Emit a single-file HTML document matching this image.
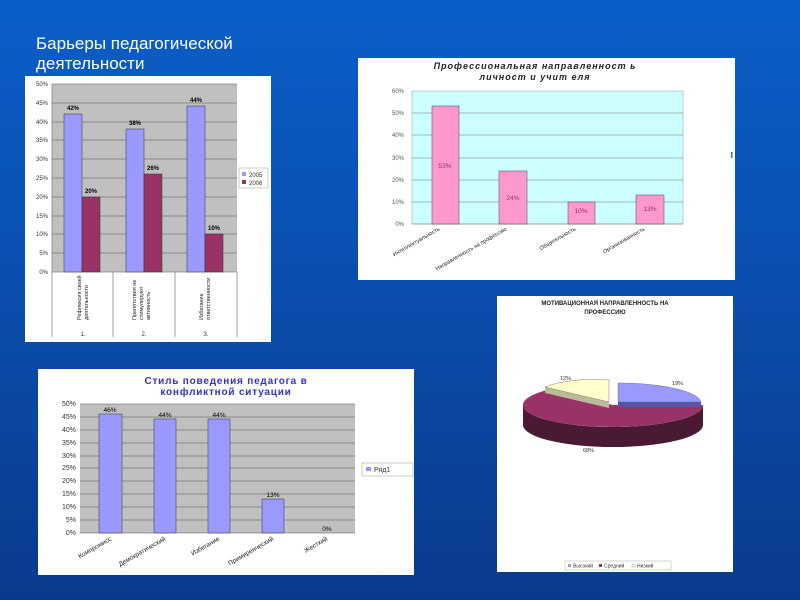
<!DOCTYPE html>
<html><head><meta charset="utf-8"><style>
html,body{margin:0;padding:0}
body{width:800px;height:600px;overflow:hidden;background:linear-gradient(180deg,#0b5ec8 0%,#0a4fb0 45%,#0a3a8c 100%);font-family:"Liberation Sans","DejaVu Sans",sans-serif;position:relative}
.t{position:absolute;left:36px;top:34px;color:#fff;font-size:17px;line-height:20px}
svg{position:absolute;left:0;top:0}
</style></head><body>
<div class="t">Барьеры педагогической<br>деятельности</div>
<svg width="800" height="600" font-family="Liberation Sans, DejaVu Sans, sans-serif">
<!-- Chart 1 -->
<rect x="25" y="76" width="246" height="266" fill="#fff"/>
<rect x="52" y="84" width="185" height="188" fill="#c0c0c0"/>
<g stroke="#555" stroke-width="0.6">
<line x1="52" y1="84" x2="237" y2="84"/><line x1="52" y1="103" x2="237" y2="103"/><line x1="52" y1="122" x2="237" y2="122"/><line x1="52" y1="140" x2="237" y2="140"/><line x1="52" y1="159" x2="237" y2="159"/><line x1="52" y1="178" x2="237" y2="178"/><line x1="52" y1="197" x2="237" y2="197"/><line x1="52" y1="216" x2="237" y2="216"/><line x1="52" y1="234" x2="237" y2="234"/><line x1="52" y1="253" x2="237" y2="253"/>
</g>
<g stroke="#888" stroke-width="0.8"><line x1="52" y1="272" x2="237" y2="272"/><line x1="52" y1="84" x2="52" y2="337"/><line x1="113" y1="272" x2="113" y2="337"/><line x1="175" y1="272" x2="175" y2="337"/><line x1="237" y1="272" x2="237" y2="337"/></g>
<g fill="#9999ff" stroke="#333" stroke-width="0.5"><rect x="64" y="114" width="18" height="158"/><rect x="126" y="129" width="18" height="143"/><rect x="187" y="106" width="18" height="166"/></g>
<g fill="#993366" stroke="#333" stroke-width="0.5"><rect x="82" y="197" width="18" height="75"/><rect x="144" y="174" width="18" height="98"/><rect x="205" y="234" width="18" height="38"/></g>
<g font-size="6" fill="#333" text-anchor="end"><text x="48" y="86">50%</text><text x="48" y="105">45%</text><text x="48" y="124">40%</text><text x="48" y="142">35%</text><text x="48" y="161">30%</text><text x="48" y="180">25%</text><text x="48" y="199">20%</text><text x="48" y="218">15%</text><text x="48" y="236">10%</text><text x="48" y="255">5%</text><text x="48" y="274">0%</text></g>
<g font-size="6" fill="#000" text-anchor="middle" font-weight="bold"><text x="73" y="110">42%</text><text x="91" y="193">20%</text><text x="135" y="125">38%</text><text x="153" y="170">26%</text><text x="196" y="102">44%</text><text x="214" y="230">10%</text></g>
<g font-size="5.5" fill="#222"><text transform="translate(81,320) rotate(-90)">Рефлексия своей</text><text transform="translate(88,320) rotate(-90)">деятельности</text>
<text transform="translate(136,320) rotate(-90)">Препятствия не</text><text transform="translate(143,320) rotate(-90)">стимулируют</text><text transform="translate(150,320) rotate(-90)">активность</text>
<text transform="translate(203,320) rotate(-90)">Избегание</text><text transform="translate(210,320) rotate(-90)">ответственности</text></g>
<g font-size="6" fill="#333" text-anchor="middle"><text x="83" y="336">1.</text><text x="144" y="336">2.</text><text x="206" y="336">3.</text></g>
<rect x="239" y="168" width="29" height="20" fill="#fff" stroke="#999" stroke-width="0.5"/>
<rect x="242" y="172" width="4" height="4" fill="#9999ff"/><rect x="242" y="180" width="4" height="4" fill="#993366"/>
<g font-size="6" fill="#333"><text x="249" y="177">2005</text><text x="249" y="185">2006</text></g>

<!-- Chart 2 -->
<rect x="358" y="58" width="377" height="222" fill="#fff"/>
<g font-size="9" font-weight="bold" font-style="italic" fill="#222" text-anchor="middle" letter-spacing="1"><text x="535" y="69">Профессиональная направленност ь</text><text x="535" y="80">личност и учит еля</text></g>
<rect x="412" y="91" width="271" height="133" fill="#ccffff" stroke="#999" stroke-width="0.5"/>
<g stroke="#777" stroke-width="0.6"><line x1="412" y1="113" x2="683" y2="113"/><line x1="412" y1="135" x2="683" y2="135"/><line x1="412" y1="158" x2="683" y2="158"/><line x1="412" y1="180" x2="683" y2="180"/><line x1="412" y1="202" x2="683" y2="202"/><line x1="412" y1="224" x2="683" y2="224"/></g>
<g fill="#ff99cc" stroke="#444" stroke-width="0.5"><rect x="432" y="106" width="27" height="118"/><rect x="499" y="171" width="28" height="53"/><rect x="568" y="202" width="27" height="22"/><rect x="636" y="195" width="28" height="29"/></g>
<g font-size="6" fill="#555" text-anchor="end"><text x="404" y="93">60%</text><text x="404" y="115">50%</text><text x="404" y="137">40%</text><text x="404" y="160">30%</text><text x="404" y="182">20%</text><text x="404" y="204">10%</text><text x="404" y="226">0%</text></g>
<g font-size="6.5" fill="#993366" text-anchor="middle"><text x="445" y="168">53%</text><text x="513" y="200">24%</text><text x="581" y="213">10%</text><text x="650" y="211">13%</text></g>
<g font-size="5.5" fill="#222" text-anchor="end"><text transform="translate(440,230) rotate(-30)">Интеллектуальность</text><text transform="translate(507,230) rotate(-30)">Направленность на профессию</text><text transform="translate(576,230) rotate(-30)">Общительность</text><text transform="translate(645,230) rotate(-30)">Организованность</text></g>
<rect x="731" y="152" width="1.5" height="6" fill="#666"/>

<!-- Chart 3 pie -->
<rect x="497" y="296" width="236" height="276" fill="#fff"/>
<g font-size="6" font-weight="bold" fill="#222" text-anchor="middle"><text x="605" y="305">МОТИВАЦИОННАЯ НАПРАВЛЕННОСТЬ НА</text><text x="605" y="314">ПРОФЕССИЮ</text></g>
<!-- magenta side -->
<path d="M703 405 L703 425 A90 22 0 0 1 523 425 L523 405 A90 22 0 0 0 703 405 Z" fill="#4a1a35"/>
<!-- magenta top -->
<path d="M613 405 L703 405 A90 22 0 1 1 547 390 Z" fill="#993366"/>
<!-- yellow slice -->
<path d="M545 387 L545 393 L609 408 L609 402 Z" fill="#bbbb99"/>
<path d="M609 402 L545 387 A64 22 0 0 1 609 380 Z" fill="#ffffcc" stroke="#666" stroke-width="0.4"/>
<!-- blue slice -->
<path d="M618 402 L618 407 L701 407 L701 402 Z" fill="#5555aa"/>
<path d="M618 402 L618 383 A83 20 0 0 1 701 402 Z" fill="#9999ff" stroke="#666" stroke-width="0.4"/>
<g font-size="5.5" fill="#333"><text x="560" y="380">12%</text><text x="672" y="385">19%</text><text x="583" y="452">68%</text></g>
<rect x="565" y="561" width="106" height="9" fill="#fff" stroke="#999" stroke-width="0.4"/>
<g font-size="5" fill="#333"><rect x="568" y="564" width="3" height="3" fill="#9999ff"/><text x="573" y="567.5">Высокий</text><rect x="599" y="564" width="3" height="3" fill="#993366"/><text x="604" y="567.5">Средний</text><rect x="632" y="564" width="3" height="3" fill="#ffffcc" stroke="#666" stroke-width="0.3"/><text x="637" y="567.5">Низкий</text></g>

<!-- Chart 4 -->
<rect x="38" y="369" width="376" height="206" fill="#fff"/>
<g font-size="10" font-weight="bold" fill="#3333cc" text-anchor="middle" letter-spacing="0.8"><text x="226" y="384">Стиль поведения педагога в</text><text x="226" y="395">конфликтной ситуации</text></g>
<rect x="80" y="404" width="275" height="129" fill="#c0c0c0"/>
<g stroke="#555" stroke-width="0.6"><line x1="80" y1="404" x2="355" y2="404"/><line x1="80" y1="417" x2="355" y2="417"/><line x1="80" y1="430" x2="355" y2="430"/><line x1="80" y1="443" x2="355" y2="443"/><line x1="80" y1="456" x2="355" y2="456"/><line x1="80" y1="468" x2="355" y2="468"/><line x1="80" y1="481" x2="355" y2="481"/><line x1="80" y1="494" x2="355" y2="494"/><line x1="80" y1="507" x2="355" y2="507"/><line x1="80" y1="520" x2="355" y2="520"/><line x1="80" y1="533" x2="355" y2="533"/></g>
<g fill="#9999ff" stroke="#333" stroke-width="0.5"><rect x="99" y="414" width="23" height="119"/><rect x="154" y="419" width="22" height="114"/><rect x="208" y="419" width="22" height="114"/><rect x="262" y="499" width="22" height="34"/></g>
<g font-size="7" fill="#333" text-anchor="end"><text x="76" y="406">50%</text><text x="76" y="419">45%</text><text x="76" y="432">40%</text><text x="76" y="445">35%</text><text x="76" y="458">30%</text><text x="76" y="470">25%</text><text x="76" y="483">20%</text><text x="76" y="496">15%</text><text x="76" y="509">10%</text><text x="76" y="522">5%</text><text x="76" y="535">0%</text></g>
<g font-size="6.5" fill="#000" text-anchor="middle"><text x="110" y="412">46%</text><text x="165" y="417">44%</text><text x="219" y="417">44%</text><text x="273" y="497">13%</text><text x="327" y="531">0%</text></g>
<g font-size="6.5" fill="#222" text-anchor="end"><text transform="translate(112,540) rotate(-30)">Компромисс</text><text transform="translate(166,540) rotate(-30)">Демократический</text><text transform="translate(220,540) rotate(-30)">Избегание</text><text transform="translate(274,540) rotate(-30)">Примиренческий</text><text transform="translate(328,540) rotate(-30)">Жесткий</text></g>
<rect x="362" y="463" width="51" height="13" fill="#fff" stroke="#999" stroke-width="0.5"/>
<rect x="366" y="467" width="5" height="4" fill="#9999ff"/>
<text x="374" y="472" font-size="7" fill="#333">Ряд1</text>
</svg>
</body></html>
